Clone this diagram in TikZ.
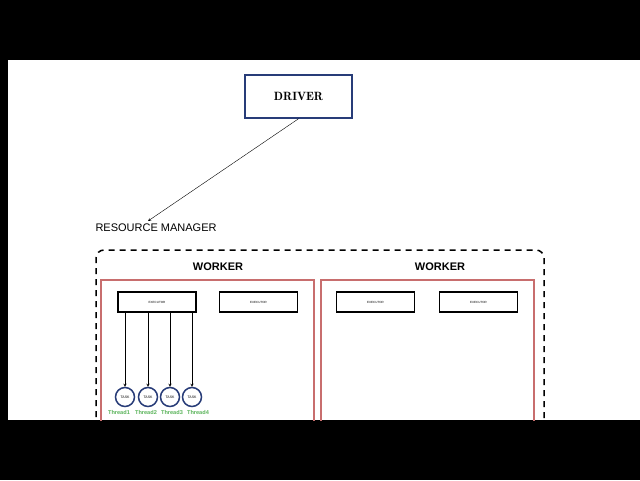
\documentclass[tikz,border=0pt]{standalone}
\usepackage{fontspec}
\setmainfont{Liberation Sans}
\definecolor{navy}{RGB}{40,60,120}
\definecolor{wred}{RGB}{200,110,110}
\definecolor{tgreen}{RGB}{90,180,90}
\begin{document}
\begin{tikzpicture}[x=1pt, y=-1pt,
	exec/.style = {draw, line width = 1.3pt, minimum width = 78pt, minimum height = 20pt, inner sep = 0pt, font = \fontsize{3}{3}\selectfont},
	task/.style = {draw = navy, line width = 1.5pt, circle, minimum size = 19pt, inner sep = 0pt, font = \fontsize{3.5}{4}\selectfont},
	thread/.style = {text = tgreen, font = \fontsize{5.6}{7}\selectfont\bfseries, inner sep = 0pt}]
	\useasboundingbox (0,0) rectangle (640,480);
	\fill[black] (0,0) rectangle (640,480);
	\fill[white] (8,60) rectangle (640,420);
	\begin{scope}
	\clip (8,60) rectangle (640,420);
	\node[draw = navy, line width = 1.5pt, minimum width = 107pt, minimum height = 43pt, font = \fontfamily{lmr}\selectfont\large\bfseries] (driver) at (298.5,96.5) {DRIVER};
	\node[anchor = west, font = \fontsize{11}{13}\selectfont] (rm) at (92,228) {RESOURCE MANAGER};
	\coordinate (rmtop) at (148,221);
	\draw[-stealth] (driver.south) -- (rmtop);
	\draw[line width = 1.5pt, dash pattern = on 6pt off 5pt, rounded corners = 8pt] (96,450) -- (96,250) -- (544,250) -- (544,450);
	\node[font = \fontsize{11}{13}\selectfont\bfseries] (w1) at (218,267) {WORKER};
	\node[font = \fontsize{11}{13}\selectfont\bfseries] (w2) at (440,267) {WORKER};
	\draw[wred, line width = 1.3pt] (101,440) -- (101,280) -- (314,280) -- (314,440)
		(321,440) -- (321,280) -- (534,280) -- (534,440);
	\node[exec] (e1) at (157,302) {EXECUTOR};
	\node[exec] (e2) at (258.5,302) {EXECUTOR};
	\node[exec] (e3) at (375.5,302) {EXECUTOR};
	\node[exec] (e4) at (478.5,302) {EXECUTOR};
	\foreach \i/\x in {1/125, 2/148, 3/170, 4/192} {
		\node[task] (t\i) at (\x,397) {TASK};
		\coordinate (s\i) at (\x,312);
		\draw[-stealth] (s\i) -- (t\i.north);
		\node[thread] (th\i) at (\x - 6 + 4*\i - 4,412) {Thread\i};
	}
	\end{scope}
\end{tikzpicture}
\end{document}
